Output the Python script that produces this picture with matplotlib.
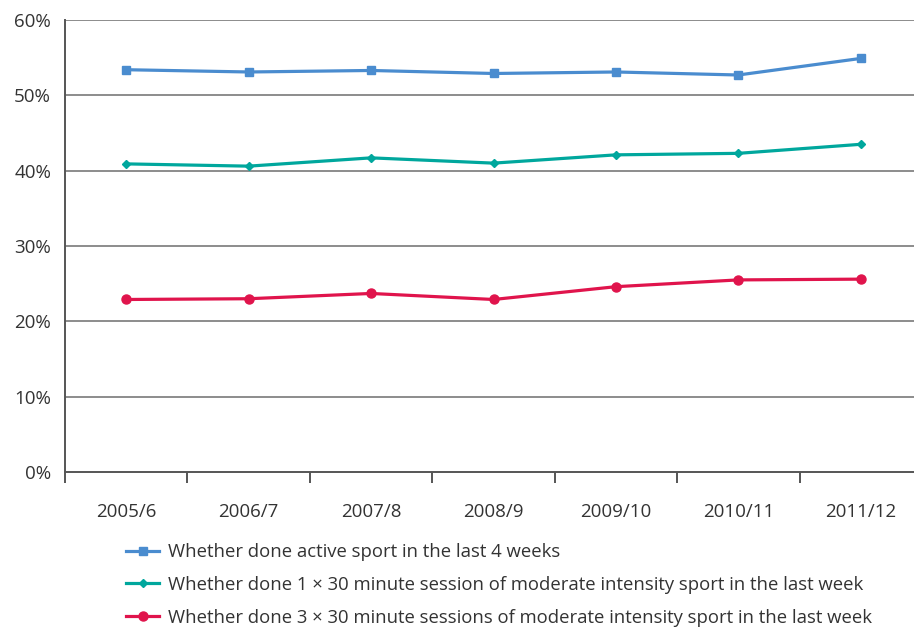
import matplotlib
matplotlib.use("Agg")
import matplotlib.pyplot as plt

categories = ["2005/6", "2006/7", "2007/8", "2008/9", "2009/10", "2010/11", "2011/12"]
active_4wk = [53.4, 53.1, 53.3, 52.9, 53.1, 52.7, 54.9]
one_x30 = [40.9, 40.6, 41.7, 41.0, 42.1, 42.3, 43.5]
three_x30 = [22.9, 23.0, 23.7, 22.9, 24.6, 25.5, 25.6]
labels = [
    "Whether done active sport in the last 4 weeks",
    "Whether done 1 \u00d7 30 minute session of moderate intensity sport in the last week",
    "Whether done 3 \u00d7 30 minute sessions of moderate intensity sport in the last week",
]
colors = ["#4A8CCF", "#00A79D", "#E0144C"]
markers = ["s", "D", "o"]
msizes = [6, 4.5, 6.5]

plt.rcParams['font.family'] = ['Open Sans', 'DejaVu Sans']

fig = plt.figure(figsize=(9.14, 6.28), dpi=100)
ax = fig.add_axes([65/914, 1-472/628, (922-65)/914, (472-20)/628])

x = list(range(len(categories)))
series = [active_4wk, one_x30, three_x30]
for s, c, m, ms, lab in zip(series, colors, markers, msizes, labels):
    ax.plot(x, s, color=c, marker=m, markersize=ms, linewidth=2.3, label=lab)

ax.set_xlim(-0.5, len(categories) - 0.5)
ax.set_ylim(0, 60)
ax.set_yticks(range(0, 61, 10))
ax.set_yticklabels([f"{v}%" for v in range(0, 61, 10)])
for v in range(10, 61, 10):
    ax.axhline(v, color="#8c8c8c", linewidth=1.4, zorder=0)

ax.set_xticks(x)
ax.set_xticklabels(categories)
ax.set_xticks([i - 0.5 for i in range(len(categories) + 1)], minor=True)
ax.tick_params(axis="x", which="major", length=0, pad=22, labelsize=13.5, colors="#333333")
ax.tick_params(axis="x", which="minor", length=8, width=1.4, color="#555555")
ax.tick_params(axis="y", length=0, pad=10, labelsize=13.5, labelcolor="#333333")

for sp in ["top", "right"]:
    ax.spines[sp].set_visible(False)
for sp in ["left", "bottom"]:
    ax.spines[sp].set_color("#555555")
    ax.spines[sp].set_linewidth(1.4)

handles, labs = ax.get_legend_handles_labels()
fig.legend(handles, labs, loc="upper left", bbox_to_anchor=(126/914, 1-543/628),
           frameon=False, fontsize=13.3, handlelength=1.8, handletextpad=0.45,
           labelspacing=0.8, labelcolor="#333333", borderaxespad=0, borderpad=0)

fig.savefig("out.png", dpi=100)
